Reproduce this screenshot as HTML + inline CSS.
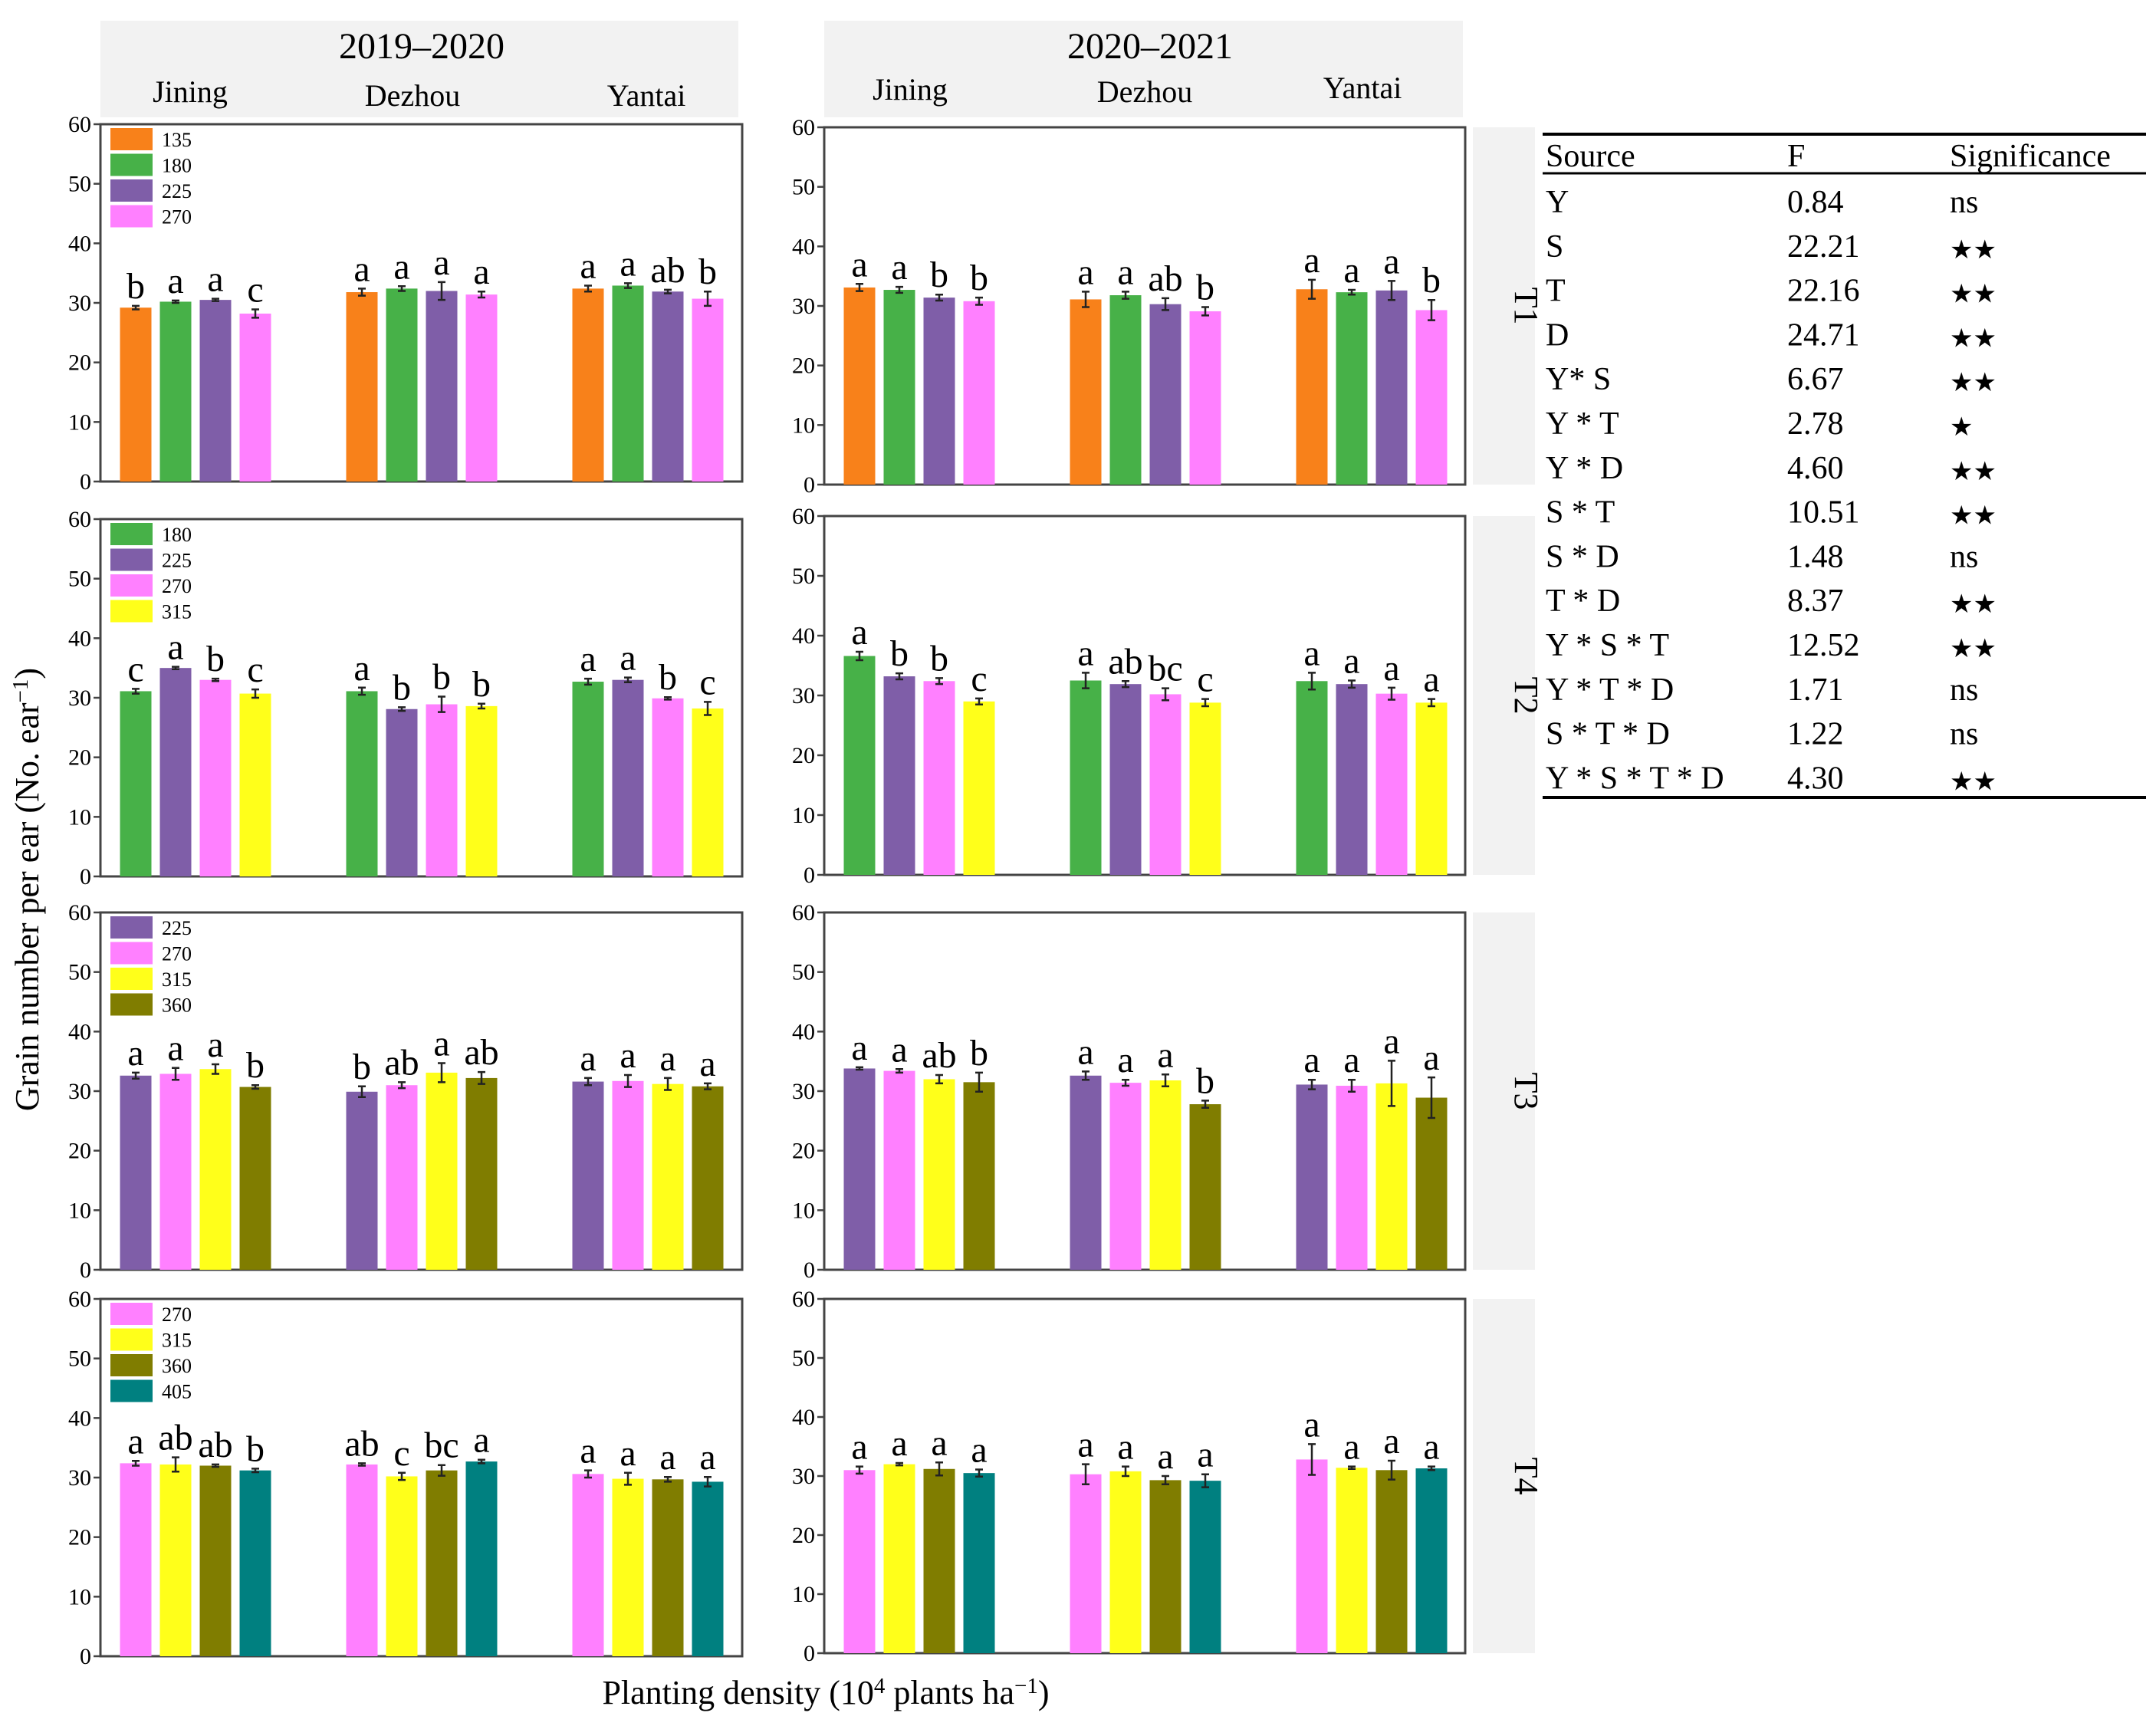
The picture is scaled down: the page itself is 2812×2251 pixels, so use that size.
<!DOCTYPE html>
<html><head><meta charset="utf-8"><style>
html,body{margin:0;padding:0;background:#fff;width:2812px;height:2251px;overflow:hidden}
svg{display:block}
svg text{font-family:"Liberation Serif","DejaVu Serif",serif}
svg text.star{font-family:"DejaVu Sans",sans-serif}
</style></head><body>
<svg id="chart" width="2812" height="2251" viewBox="0 0 2812 2251" xmlns="http://www.w3.org/2000/svg">
<rect x="131" y="27" width="832" height="126" fill="#f2f2f2"/>
<text x="550" y="76" font-size="48" text-anchor="middle">2019–2020</text>
<text x="248" y="133" font-size="40" text-anchor="middle">Jining</text>
<text x="538" y="138" font-size="40" text-anchor="middle">Dezhou</text>
<text x="843" y="138" font-size="40" text-anchor="middle">Yantai</text>
<rect x="1075" y="27" width="833" height="126" fill="#f2f2f2"/>
<text x="1500" y="76" font-size="48" text-anchor="middle">2020–2021</text>
<text x="1187" y="130" font-size="40" text-anchor="middle">Jining</text>
<text x="1493" y="133" font-size="40" text-anchor="middle">Dezhou</text>
<text x="1777" y="128" font-size="40" text-anchor="middle">Yantai</text>
<text transform="translate(50,1160) rotate(-90)" font-size="44" text-anchor="middle">Grain number per ear (No. ear<tspan font-size="29" dy="-14">−1</tspan><tspan dy="14">)</tspan></text>
<text x="1077" y="2222" font-size="44" text-anchor="middle">Planting density (10<tspan font-size="29" dy="-14">4</tspan><tspan dy="14"> plants ha</tspan><tspan font-size="29" dy="-14">−1</tspan><tspan dy="14">)</tspan></text>
<g id="panels"></g>
<g id="table"></g>
</svg>
<script>
const NS='http://www.w3.org/2000/svg';
const sites=['Jining','Dezhou','Yantai'];
const treatments=['T1','T2','T3','T4'];
const densities=[['135','180','225','270'],['180','225','270','315'],['225','270','315','360'],['270','315','360','405']];
const colorByDensity={'135':'#f8811a','180':'#47b148','225':'#7f5ea8','270':'#ff80ff','315':'#ffff1a','360':'#807d00','405':'#008080'};
const yTicks=[0,10,20,30,40,50,60];
const vals2019=[
 [[29.2,30.2,30.5,28.2],[31.8,32.4,32.0,31.4],[32.4,32.9,31.9,30.7]],
 [[31.1,35.0,33.0,30.7],[31.1,28.1,28.9,28.6],[32.7,33.0,29.9,28.2]],
 [[32.6,32.9,33.7,30.7],[29.9,31.0,33.1,32.2],[31.6,31.7,31.2,30.8]],
 [[32.4,32.2,32.0,31.2],[32.2,30.2,31.2,32.7],[30.6,29.8,29.7,29.3]]];
const vals2020=[
 [[33.1,32.7,31.4,30.8],[31.1,31.8,30.3,29.1],[32.8,32.3,32.6,29.3]],
 [[36.6,33.2,32.4,29.0],[32.5,31.9,30.2,28.8],[32.4,31.9,30.3,28.8]],
 [[33.8,33.4,32.0,31.5],[32.6,31.4,31.8,27.8],[31.1,30.9,31.3,28.9]],
 [[31.0,32.0,31.2,30.5],[30.3,30.8,29.3,29.2],[32.8,31.4,31.0,31.3]]];
const errs2019=[
 [[.3,.2,.2,.7],[.6,.4,1.5,.5],[.5,.4,.3,1.2]],
 [[.4,.2,.2,.7],[.6,.3,1.3,.4],[.5,.4,.2,1.1]],
 [[.5,1,.8,.3],[.9,.5,1.6,1],[.6,1,1,.5]],
 [[.4,1.2,.2,.3],[.2,.6,.9,.3],[.6,1,.4,.8]]];
const errs2020=[
 [[.6,.5,.5,.6],[1.3,.6,1,.7],[1.6,.4,1.6,1.7]],
 [[.7,.5,.5,.5],[1.3,.5,1,.6],[1.4,.6,1,.6]],
 [[.2,.3,.7,1.6],[.7,.5,1,.6],[.8,1,3.8,3.4]],
 [[.6,.2,1.1,.6],[1.7,.8,.7,1.1],[2.6,.2,1.6,.3]]];
const letters2019=[
 [['b','a','a','c'],['a','a','a','a'],['a','a','ab','b']],
 [['c','a','b','c'],['a','b','b','b'],['a','a','b','c']],
 [['a','a','a','b'],['b','ab','a','ab'],['a','a','a','a']],
 [['a','ab','ab','b'],['ab','c','bc','a'],['a','a','a','a']]];
const letters2020=[
 [['a','a','b','b'],['a','a','ab','b'],['a','a','a','b']],
 [['a','b','b','c'],['a','ab','bc','c'],['a','a','a','a']],
 [['a','a','ab','b'],['a','a','a','b'],['a','a','a','a']],
 [['a','a','a','a'],['a','a','a','a'],['a','a','a','a']]];
const anovaSource=['Y','S','T','D','Y* S','Y * T','Y * D','S * T','S * D','T * D','Y * S * T','Y * T * D','S * T * D','Y * S * T * D'];
const anovaF=['0.84','22.21','22.16','24.71','6.67','2.78','4.60','10.51','1.48','8.37','12.52','1.71','1.22','4.30'];
const anovaSig=['ns','★★','★★','★★','★★','★','★★','★★','ns','★★','★★','ns','ns','★★'];

const cols=[{x0:131,x1:968,tops:[162,677,1190,1694],bots:[628,1143,1656,2160],vals:vals2019,errs:errs2019,let:letters2019,legend:true,yr:'2019'},
            {x0:1075,x1:1911,tops:[166,673,1190,1694],bots:[632,1141,1656,2156],vals:vals2020,errs:errs2020,let:letters2020,legend:false,yr:'2020'}];
const root=document.getElementById('panels');
function el(tag,attrs,parent){const e=document.createElementNS(NS,tag);for(const k in attrs)e.setAttribute(k,attrs[k]);(parent||root).appendChild(e);return e;}

cols.forEach((c)=>{
 treatments.forEach((t,ti)=>{
  const top=c.tops[ti],bot=c.bots[ti];
  const y=v=>bot-(v/60)*(bot-top);
  const g=el('g',{});
  
  
  const fr=el('rect',{x:c.x0,y:top,width:c.x1-c.x0,height:bot-top,fill:'none',stroke:'#444','stroke-width':3},g);
  
  
  yTicks.forEach(v=>{
   const tk=el('line',{x1:c.x0-9,x2:c.x0,y1:y(v),y2:y(v),stroke:'#444','stroke-width':2.5},g);
   
   
   const tl=el('text',{x:c.x0-12,y:y(v)+10,'font-size':30,'text-anchor':'end'},g);
   tl.textContent=v;
   
   
  });
  sites.forEach((s,si)=>{
   const gc=c.x0+124+295*si;
   for(let b=0;b<4;b++){
    const v=c.vals[ti][si][b],e=c.errs[ti][si][b];
    const cx=gc+(b-1.5)*52;
    const r=el('rect',{x:cx-20.5,y:y(v),width:41,height:bot-y(v),fill:colorByDensity[densities[ti][b]]},g);
    
    
    const eb=el('path',{d:`M${cx},${y(v+e)}V${y(v-e)}M${cx-5},${y(v+e)}H${cx+5}M${cx-5},${y(v-e)}H${cx+5}`,stroke:'#222','stroke-width':2.5,fill:'none'},g);
    
    
    const lt=el('text',{x:cx,y:y(v+e)-10,'font-size':48,'text-anchor':'middle'},g);
    lt.textContent=c.let[ti][si][b];
    
    
   }
  });
  if(c.legend){
   densities[ti].forEach((d,k)=>{
    const sw=el('rect',{x:c.x0+13,y:top+5+k*33.5,width:55,height:29,fill:colorByDensity[d]},g);
    
    
    const lt=el('text',{x:c.x0+80,y:top+29+k*33.5,'font-size':26},g);
    lt.textContent=d;
    
    
   });
  } else {
   const sr=el('rect',{x:1921,y:top,width:81,height:bot-top,fill:'#f2f2f2'},g);
   
   
   const st=el('text',{x:0,y:0,'font-size':44,'text-anchor':'middle',transform:`translate(1976,${(top+bot)/2}) rotate(90)`},g);
   st.textContent=t;
   
   
  }
 });
});

const tb=document.getElementById('table');
[175,226,1040].forEach((ly,i)=>{
 const l=el('line',{x1:2012,x2:2799,y1:ly,y2:ly,stroke:'#000','stroke-width':i===1?3:4},tb);
 
 
});
[['Source',2016],['F',2331],['Significance',2543]].forEach(([h,x])=>{
 const t=el('text',{x:x,y:217,'font-size':42},tb);
 t.textContent=h;
 
 
});
anovaSource.forEach((s,i)=>{
 const ry=277+57.8*i;
 const a=el('text',{x:2016,y:ry,'font-size':42},tb);
 a.textContent=s;
 
 
 const b=el('text',{x:2331,y:ry,'font-size':42},tb);
 b.textContent=anovaF[i];
 
 
 const isNs=anovaSig[i]==='ns';
 const c=el('text',{x:2543,y:ry+(isNs?0:2),'font-size':isNs?42:34},tb);
 if(!isNs)c.setAttribute('class','star');
 c.textContent=anovaSig[i];
 
 
});
</script>
</body></html>
